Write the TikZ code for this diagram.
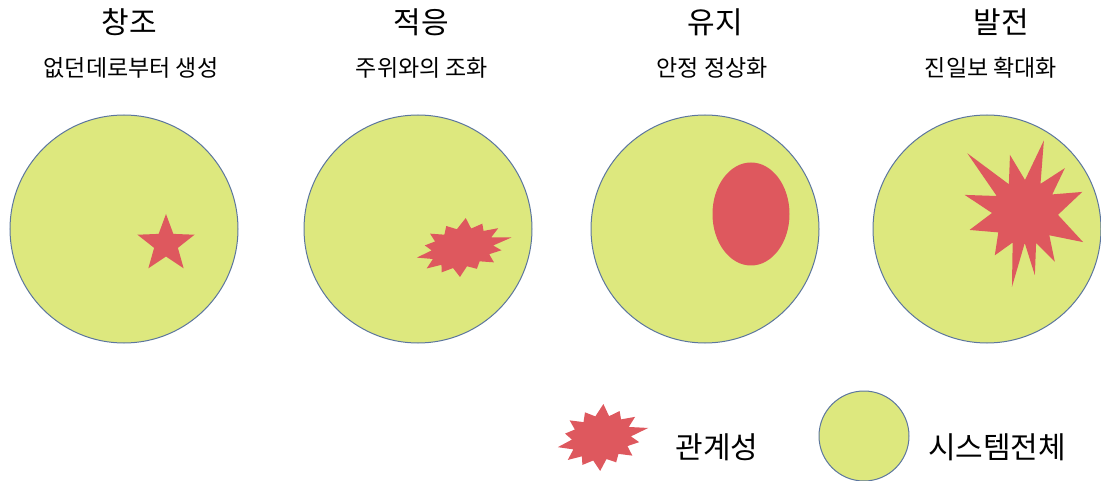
\documentclass[tikz,border=0pt]{standalone}
\usepackage{fontspec}
\setmainfont{Noto Sans CJK KR}
\usetikzlibrary{shapes.geometric}
\definecolor{sysfill}{RGB}{221,232,126}
\definecolor{sysline}{RGB}{92,118,158}
\definecolor{relred}{RGB}{222,88,94}
% jagged burst, unit radius; options give place and size
\newcommand{\relburst}[1]{\fill[rel,#1] (0:1.15) \foreach \a/\r in {12/0.72,24/0.95,37/0.72,50/1.0,62/0.7,75/0.9,88/0.7,100/1.05,114/0.72,128/0.92,140/0.7,152/1.0,166/0.72,180/1.05,192/0.7,205/0.9,218/0.72,230/1.0,242/0.7,255/0.95,268/0.72,282/1.08,295/0.7,308/0.92,321/0.72,334/1.0,347/0.72} {-- (\a:\r)} -- cycle;}

\begin{document}
\begin{tikzpicture}[x=1pt,y=-1pt,
 sys/.style={circle,draw=sysline,line width=1pt,fill=sysfill,inner sep=0pt,minimum size=228pt},
 rel/.style={fill=relred},
 ttl/.style={font=\fontsize{30}{33}\selectfont,inner sep=0pt},
 sub/.style={font=\fontsize{23}{26}\selectfont,inner sep=0pt},
 lgd/.style={font=\fontsize{30}{33}\selectfont,inner sep=0pt}]
 \useasboundingbox (0,0) rectangle (1101,481);
 % titles
 \node[ttl](t1) at (129,22){창조};
 \node[sub](s1) at (131,68){없던데로부터 생성};
 \node[ttl](t2) at (421,22){적응};
 \node[sub](s2) at (422,68){주위와의 조화};
 \node[ttl](t3) at (715,22){유지};
 \node[sub](s3) at (712,68){안정 정상화};
 \node[ttl](t4) at (1001,22){발전};
 \node[sub](s4) at (991,68){진일보 확대화};
 % systems
 \node[sys](c1) at (124,229){};
 \node[sys](c2) at (418,229){};
 \node[sys](c3) at (705,229){};
 \node[sys](c4) at (987,229){};
 % relations
 \node[star,star points=5,star point ratio=2.4,rel,inner sep=0pt,minimum size=60pt](r1) at (166,244){};
 \relburst{shift={(462,248)},rotate=12,xscale=44,yscale=27}
 \node[ellipse,rel,inner sep=0pt,minimum width=77pt,minimum height=103pt](r3) at (751,214){};
 \fill[rel,shift={(1025,213)}] (26.6:65) \foreach \a/\r in {42.5/33,58.5/57,69.7/32,81/63,90.5/30,100/75,112.7/32,125.5/52,144/33,163/58,180/33,196.7/63,211/33,226/83,240.7/33,255.5/60,270/33,284.6/75,298/33,311.6/60,325.7/33,339.8/61,3.2/33} {-- (\a:\r)} -- cycle;
 % legend
 \relburst{shift={(601,438)},rotate=12,xscale=42,yscale=31}
 \node[lgd](l1) at (717,447){관계성};
 \node[sys,minimum size=90pt](lc) at (864,436){};
 \node[lgd](l2) at (997,447){시스템전체};
\end{tikzpicture}
\end{document}
